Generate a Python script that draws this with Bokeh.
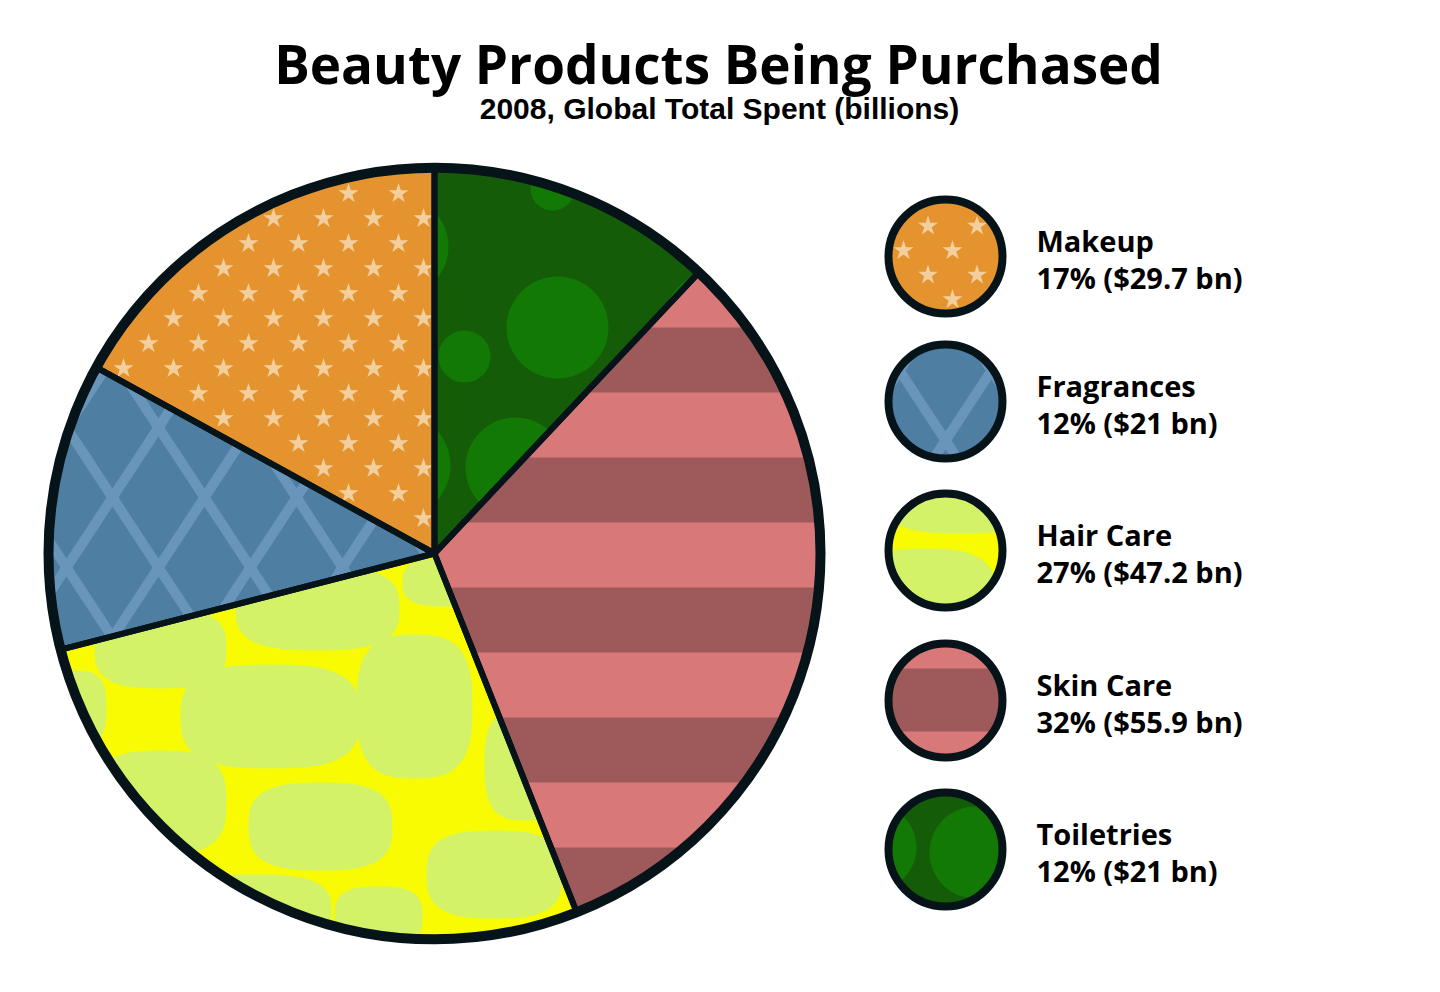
import numpy as np
from bokeh.plotting import figure
from bokeh.models import Range1d, ColumnDataSource
from bokeh.embed import file_html
from bokeh.resources import INLINE
from bokeh.core.properties import value

# ---------------- data ----------------
categories = ["Makeup", "Fragrances", "Hair Care", "Skin Care", "Toiletries"]
spend_bn = [29.7, 21.0, 47.2, 55.9, 21.0]
value_labels = ["17%  ($29.7 bn)", "12% ($21 bn)", "27% ($47.2 bn)", "32% ($55.9 bn)", "12% ($21 bn)"]
title_text = "Beauty Products Being Purchased"
subtitle_text = "2008, Global Total Spent (billions)"

# ---------------- styles ----------------
W, H = 1440, 992
OUT = "#06141a"
base_fill = ["#e4932f", "#4f7ea3", "#f8fb02", "#d87878", "#145c08"]
tex_fill = ["#f2cf9c", "#6a95ba", "#d4f267", "#9e5a5a", "#127a04"]

CX, CY_S, R = 434.0, 553.0, 386.0          # pie centre (screen y) and radius
LEG_X, LEG_R = 945.0, 57.0
LEG_YS = [256.0, 401.0, 550.0, 700.0, 849.0]  # legend circle centres (screen y)
TXT_X = 1036.0
BASE_K = 0.41   # baseline correction factor (fraction of font size)


def Y(ys):
    return H - np.asarray(ys, dtype=float)


CY = H - CY_S

# ---------------- geometry helpers ----------------
def clip_poly(subj, clipper):
    out = list(subj)
    n = len(clipper)
    for i in range(n):
        if not out:
            return []
        ax, ay = clipper[i]
        bx, by = clipper[(i + 1) % n]
        ex, ey = bx - ax, by - ay
        inp, out = out, []
        s = inp[-1]
        ss = ex * (s[1] - ay) - ey * (s[0] - ax)
        for e in inp:
            se = ex * (e[1] - ay) - ey * (e[0] - ax)
            if se >= 0:
                if ss < 0:
                    t = ss / (ss - se)
                    out.append((s[0] + t * (e[0] - s[0]), s[1] + t * (e[1] - s[1])))
                out.append(e)
            elif ss >= 0:
                t = ss / (ss - se)
                out.append((s[0] + t * (e[0] - s[0]), s[1] + t * (e[1] - s[1])))
            s, ss = e, se
    return out


def inside(pt, clipper, margin=0.0):
    n = len(clipper)
    for i in range(n):
        ax, ay = clipper[i]
        bx, by = clipper[(i + 1) % n]
        ex, ey = bx - ax, by - ay
        d = (ex * (pt[1] - ay) - ey * (pt[0] - ax)) / np.hypot(ex, ey)
        if d < margin:
            return False
    return True


def wedge_poly(a0, a1, n=100):
    a = np.linspace(a0, a1, n)
    return [(CX, CY)] + list(zip(CX + R * np.cos(a), CY + R * np.sin(a)))


def circle_poly(cx, cy, r, n=90):
    a = np.linspace(0, 2 * np.pi, n, endpoint=False)
    return list(zip(cx + r * np.cos(a), cy + r * np.sin(a)))


def screen_poly(pts):
    return [(x, H - y) for x, y in pts]


def rect_s(x0, x1, y0, y1):
    return screen_poly([(x0, y0), (x1, y0), (x1, y1), (x0, y1)])


def band_s(px, py, dx, dy, hw, L=900):
    n = np.hypot(dx, dy)
    ux, uy = dx / n, dy / n
    nx, ny = -uy * hw, ux * hw
    return screen_poly([(px - ux * L + nx, py - uy * L + ny), (px + ux * L + nx, py + uy * L + ny),
                        (px + ux * L - nx, py + uy * L - ny), (px - ux * L - nx, py - uy * L - ny)])


def blob_s(cx, cy, hw, hh, n=64, p=2.9):
    t = np.linspace(0, 2 * np.pi, n, endpoint=False)
    c, s = np.cos(t), np.sin(t)
    xs = cx + hw * np.sign(c) * np.abs(c) ** (2 / p)
    ys = cy + hh * np.sign(s) * np.abs(s) ** (2 / p)
    return screen_poly(list(zip(xs, ys)))


def circ_s(cx, cy, r):
    a = np.linspace(0, 2 * np.pi, 64, endpoint=False)
    return screen_poly(list(zip(cx + r * np.cos(a), cy + r * np.sin(a))))


# ---------------- texture definitions (screen coords) ----------------
def star_points(x0, y0, step, clipper, margin):
    pts = []
    for i in range(-40, 41):
        for j in range(-40, 41):
            if (i + j) % 2:
                continue
            x, y = x0 + step * i, y0 + step * j
            if inside((x, H - y), clipper, margin):
                pts.append((x, H - y))
    return pts


def lattice(jx, jy):
    subs = []
    for k in range(-14, 15):
        px = jx + 92 * k
        subs.append(band_s(px, jy, 46, 70, 5))
        subs.append(band_s(px, jy, -46, 70, 5))
    return subs


stripe_pie = [rect_s(0, W, y, y + 65) for y in range(327 - 130 * 2, 1000, 130)]
hair_blobs = [(160, 648, 66, 40), (317, 608, 82, 42), (270, 716, 90, 52), (414, 706, 58, 72),
              (76, 708, 30, 38), (160, 802, 66, 52), (320, 826, 72, 44), (446, 582, 44, 24),
              (494, 874, 68, 44), (255, 910, 76, 36), (524, 764, 40, 56), (378, 916, 44, 30)]
toil_circles = [(557, 327, 51), (464, 356, 26), (515, 467, 50), (398, 465, 52), (552, 188, 22),
                (398, 246, 50), (722, 330, 62)]

# ---------------- figure ----------------
p = figure(width=W, height=H, x_range=Range1d(0, W), y_range=Range1d(0, H),
           output_backend="svg", toolbar_location=None, min_border=0)
p.axis.visible = False
p.grid.visible = False
p.outline_line_color = None
p.background_fill_color = "white"
p.border_fill_color = "white"

total = sum(spend_bn)
fr = np.array(spend_bn) / total
starts = np.pi / 2 + 2 * np.pi * np.concatenate([[0], np.cumsum(fr)[:-1]])
ends = starts + 2 * np.pi * fr

src = ColumnDataSource(dict(cat=categories, start=starts, end=ends, fill=base_fill))
p.wedge(x=CX, y=CY, radius=R, start_angle="start", end_angle="end", direction="anticlock",
        fill_color="fill", line_color=None, source=src)

# legend base circles
leg_src = ColumnDataSource(dict(x=[LEG_X] * 5, y=list(Y(LEG_YS)), fill=base_fill))
p.circle(x="x", y="y", radius=LEG_R, fill_color="fill", line_color=None, source=leg_src)

tex_xs = {k: [] for k in range(5)}
tex_ys = {k: [] for k in range(5)}


def add(k, subs, clipper):
    for s in subs:
        c = clip_poly(s, clipper)
        if len(c) >= 3:
            tex_xs[k].append([q[0] for q in c])
            tex_ys[k].append([q[1] for q in c])


wp = [wedge_poly(a0, a1) for a0, a1 in zip(starts, ends)]
lp = [circle_poly(LEG_X, ly, LEG_R) for ly in Y(LEG_YS)]

# Fragrances lattice
add(1, lattice(112, 497), wp[1])
add(1, lattice(945, 440), lp[1])
# Hair care blobs
add(2, [blob_s(*b) for b in hair_blobs], wp[2])
add(2, [blob_s(960, 495, 78, 38), blob_s(925, 602, 72, 54), blob_s(1022, 552, 24, 26)], lp[2])
# Skin care stripes
add(3, stripe_pie, wp[3])
add(3, [rect_s(0, W, 668, 731)], lp[3])
# Toiletries circles
add(4, [circ_s(*c) for c in toil_circles], wp[4])
add(4, [circ_s(975, 852, 46), circ_s(873, 847, 43)], lp[4])

for k in range(1, 5):
    p.patches(xs=tex_xs[k], ys=tex_ys[k], fill_color=tex_fill[k], line_color=None)

# Makeup stars
stars = star_points(198, 393, 25, wp[0], 7) + star_points(952, 250, 24.5, lp[0], 6)
p.scatter(x=[s[0] for s in stars], y=[s[1] for s in stars], marker="star", size=21,
          fill_color=tex_fill[0], line_color=None)

# outlines
p.wedge(x=CX, y=CY, radius=R, start_angle="start", end_angle="end", direction="anticlock",
        fill_color=None, line_color=OUT, line_width=6, line_join="round", source=src)
p.circle(x=CX, y=CY, radius=R, fill_color=None, line_color=OUT, line_width=10)
p.circle(x="x", y="y", radius=LEG_R, fill_color=None, line_color=OUT, line_width=8, source=leg_src)

# legend text
LS = 29
lab_src = ColumnDataSource(dict(
    x=[TXT_X] * 10,
    y=list(Y([ly - 4 - BASE_K * LS for ly in LEG_YS])) + list(Y([ly + 33 - BASE_K * LS for ly in LEG_YS])),
    t=categories + value_labels))
p.text(x="x", y="y", text="t", source=lab_src, text_font=value("Open Sans"),
       text_font_style="bold", text_font_size=f"{LS}px", text_baseline="alphabetic",
       text_align="left", text_color="#000000")

# titles
TS, SS = 53, 30
p.text(x=[718], y=list(Y([85 - BASE_K * TS])), text=[title_text], text_font=value("Open Sans"),
       text_font_style="bold", text_font_size=f"{TS}px", text_align="center",
       text_baseline="alphabetic", text_color="#000000")
p.text(x=[719], y=list(Y([120 - BASE_K * SS])), text=[subtitle_text], text_font=value("Liberation Sans"),
       text_font_style="bold", text_font_size=f"{SS}px", text_align="center",
       text_baseline="alphabetic", text_color="#000000")

open("out.html", "w").write(file_html(p, INLINE))
